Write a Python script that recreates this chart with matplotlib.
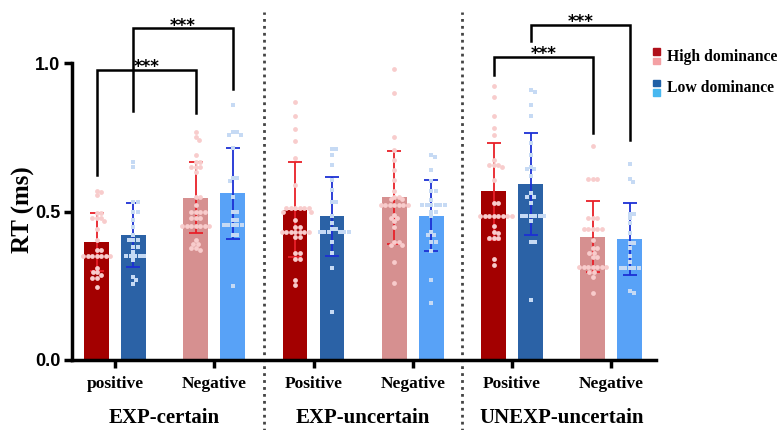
import numpy as np
import matplotlib
matplotlib.use("Agg")
import matplotlib.pyplot as plt
import matplotlib.transforms as mtransforms
from matplotlib.patches import Rectangle

# ---- datos ----
conditions = ["EXP-certain", "EXP-uncertain", "UNEXP-uncertain"]
valence_labels = ["positive", "Negative", "Positive", "Negative", "Positive", "Negative"]

high_mean = [0.397, 0.547, 0.506, 0.549, 0.568, 0.416]
low_mean = [0.422, 0.562, 0.484, 0.487, 0.594, 0.408]
high_sd = [0.098, 0.120, 0.160, 0.157, 0.165, 0.119]
low_sd = [0.107, 0.154, 0.133, 0.119, 0.172, 0.121]

# puntos individuales (High = circulos, Low = cuadrados)
hp1 = [0.57, 0.565, 0.555, 0.495, 0.495, 0.478, 0.478, 0.478, 0.467, 0.44, 0.405, 0.371, 0.371] + [0.351] * 7 + [0.31, 0.295, 0.295, 0.285, 0.275, 0.275, 0.245]
lp1 = [0.669, 0.652, 0.533, 0.533, 0.500, 0.500, 0.472, 0.450, 0.422, 0.405, 0.405, 0.405, 0.382, 0.382, 0.365] + [0.351] * 5 + [0.337, 0.281, 0.268, 0.256]
hn1 = [0.770, 0.753, 0.742, 0.692, 0.669, 0.669, 0.652, 0.652, 0.652, 0.635, 0.551, 0.551, 0.523, 0.500, 0.500, 0.500, 0.500, 0.478, 0.478, 0.478] + [0.452] * 7 + [0.405, 0.391, 0.391, 0.377, 0.377, 0.371]
ln1 = [0.860, 0.770, 0.770, 0.760, 0.760, 0.714, 0.613, 0.613, 0.602, 0.551, 0.500, 0.500, 0.472, 0.472] + [0.455] * 5 + [0.422, 0.422, 0.250]
hp2 = [0.868, 0.821, 0.778, 0.739, 0.680, 0.590] + [0.512] * 6 + [0.500, 0.500, 0.472, 0.450, 0.450] + [0.433] * 7 + [0.416, 0.416, 0.360, 0.360, 0.340, 0.340, 0.270, 0.253]
lp2 = [0.711, 0.711, 0.692, 0.658, 0.607, 0.574, 0.531, 0.531, 0.484, 0.461, 0.441, 0.441] + [0.430] * 6 + [0.399, 0.360, 0.309, 0.163]
hn2 = [0.981, 0.900, 0.751, 0.708, 0.675, 0.641, 0.607, 0.568, 0.551, 0.551, 0.542, 0.542] + [0.521] * 7 + [0.489, 0.478, 0.478, 0.467, 0.450, 0.399, 0.399, 0.388, 0.388, 0.330, 0.259]
ln2 = [0.692, 0.685, 0.641, 0.602, 0.568, 0.568, 0.540] + [0.521] * 6 + [0.500, 0.500, 0.484, 0.433, 0.422, 0.422, 0.399, 0.399, 0.369, 0.270, 0.191]
hp3 = [0.922, 0.888, 0.821, 0.782, 0.759, 0.675, 0.658, 0.658, 0.658, 0.652, 0.607, 0.529, 0.529] + [0.484] * 8 + [0.452, 0.433, 0.427, 0.410, 0.410, 0.410, 0.341, 0.320]
lp3 = [0.911, 0.905, 0.860, 0.821, 0.731, 0.692, 0.652, 0.643, 0.643, 0.619, 0.562, 0.551, 0.551, 0.529] + [0.484] * 6 + [0.467, 0.399, 0.399, 0.202]
hn3 = [0.722, 0.610, 0.610, 0.610, 0.478, 0.478, 0.478] + [0.441] * 5 + [0.405, 0.377, 0.377, 0.362, 0.362, 0.346, 0.346] + [0.313] * 7 + [0.298, 0.298, 0.281, 0.227]
ln3 = [0.661, 0.610, 0.600, 0.493, 0.493, 0.478, 0.461, 0.427, 0.394, 0.394, 0.377, 0.349, 0.332] + [0.311] * 5 + [0.231, 0.225]

high_points = [hp1, hn1, hp2, hn2, hp3, hn3]
low_points = [lp1, ln1, lp2, ln2, lp3, ln3]

# ---- estilo ----
serif = "Liberation Serif"
high_bar_colors = ["#a30000", "#d69090"] * 3
low_bar_colors = ["#2b62a6", "#58a2f7"] * 3
high_pt_color = "#f8cccc"
low_pt_color = "#c6daf4"

W, H = 778, 430
fig = plt.figure(figsize=(W / 100, H / 100), dpi=100)
ax = fig.add_axes([72 / W, 70 / H, 584 / W, 356 / H])
ax.set_xlim(-0.433, 5.45)
ax.set_ylim(0, 1.2)

XPX = 99.2   # px por unidad x
YPX = 296.4  # px por unidad y


def swarm(vals, diam=4.5):
    # beeswarm simple en pixeles
    placed = []
    offs = []
    for v in vals:
        y = v * YPX
        cands = [0.0]
        for px, py in placed:
            dy = y - py
            if abs(dy) < diam:
                dx = np.sqrt(diam ** 2 - dy ** 2)
                cands += [px + dx, px - dx]
        cands.sort(key=abs)
        for c in cands:
            if all((c - px) ** 2 + (y - py) ** 2 >= diam ** 2 - 1e-6 for px, py in placed):
                break
        placed.append((c, y))
        offs.append(c / XPX)
    return np.array(offs)


x = np.arange(len(valence_labels))
off = 0.186
bw = 0.25

ax.bar(x - off, high_mean, bw, color=high_bar_colors, zorder=1)
ax.bar(x + off, low_mean, bw, color=low_bar_colors, zorder=1)
ax.errorbar(x - off, high_mean, yerr=high_sd, fmt="none", ecolor="#e82028",
            elinewidth=1.3, capsize=5, capthick=1.3, zorder=2)
ax.errorbar(x + off, low_mean, yerr=low_sd, fmt="none", ecolor="#1c30d4",
            elinewidth=1.3, capsize=5, capthick=1.3, zorder=2)

for i in range(len(x)):
    hv = np.array(high_points[i])
    ax.scatter(x[i] - off + swarm(hv), hv, s=12, marker="o", color=high_pt_color,
               linewidths=0, zorder=3)
    lv = np.array(low_points[i])
    ax.scatter(x[i] + off + swarm(lv), lv, s=11, marker="s", color=low_pt_color,
               linewidths=0, zorder=3)

# brackets de significancia
brackets = [
    (0 - off, 1 - off, 0.624, 0.978, 0.833),
    (0 + off, 1 + off, 0.840, 1.118, 0.913),
    (4 - off, 5 - off, 0.962, 1.023, 0.765),
    (4 + off, 5 + off, 1.074, 1.130, 0.742),
]
for x1, x2, y1, yt, y2 in brackets:
    ax.plot([x1, x1, x2, x2], [y1, yt, yt, y2], color="black", lw=1.8,
            clip_on=False, zorder=4, solid_joinstyle="miter")
    ax.text((x1 + x2) / 2, yt - 0.008, "***", ha="center", va="baseline",
            fontsize=12, fontweight="bold", family="DejaVu Sans")

# separadores punteados
for xs in [1.5, 3.5]:
    ax.axvline(xs, ymin=-0.2, ymax=0.978, clip_on=False, ls=(0, (1, 1.5)),
               color="#444444", lw=2)

# ejes
for s in ["top", "right"]:
    ax.spines[s].set_visible(False)
for s in ["left", "bottom"]:
    ax.spines[s].set_linewidth(2.5)
ax.spines["left"].set_bounds(0, 1.0)
ax.set_yticks([0.0, 0.5, 1.0])
ax.set_yticklabels(["0.0", "0.5", "1.0"], family="Liberation Sans",
                   fontweight="bold", fontsize=13)
ax.set_xticks(x)
ax.set_xticklabels(valence_labels, family=serif, fontweight="bold", fontsize=12.5)
ax.tick_params(axis="both", width=2.5, length=6)
ax.tick_params(axis="y", pad=2.5)
ax.tick_params(axis="x", pad=5.5)

fig.text(23 / W, 1 - 210 / H, "RT (ms)", rotation=90, ha="center", va="center",
         family=serif, fontweight="bold", fontsize=18)

trans = mtransforms.blended_transform_factory(ax.transData, fig.transFigure)
for i, cond in enumerate(conditions):
    ax.text(2 * i + 0.5, 1 - 418 / H, cond, transform=trans, ha="center",
            va="center", family=serif, fontweight="bold", fontsize=15)

# leyenda manual (dos cuadrados apilados)
legend_items = [("High dominance", "#b0101a", "#f4a0a4", 56.7),
                ("Low dominance", "#1f5fa6", "#48b8f0", 88.0)]
for label, c1, c2, yc in legend_items:
    fig.add_artist(Rectangle((653 / W, 1 - (yc - 2) / H), 7 / W, 6.5 / H,
                             transform=fig.transFigure, color=c1))
    fig.add_artist(Rectangle((653 / W, 1 - (yc + 7.5) / H), 7 / W, 6.5 / H,
                             transform=fig.transFigure, color=c2))
    fig.text(667 / W, 1 - yc / H, label, ha="left", va="center", family=serif,
             fontweight="bold", fontsize=11.3)

fig.savefig("out.png", dpi=100)
